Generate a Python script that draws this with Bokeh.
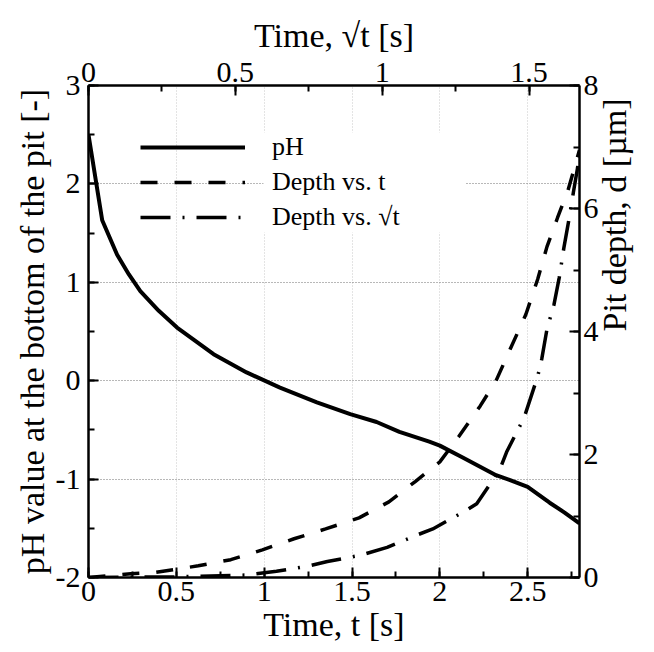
import numpy as np
from bokeh.plotting import figure
from bokeh.models import (LinearAxis, Range1d, SingleIntervalTicker,
                          NumeralTickFormatter, Legend, LegendItem, BoxAnnotation)
from bokeh.embed import file_html
from bokeh.resources import INLINE

FONT = "Liberation Serif"

# pH at the bottom of the pit vs time t [s]
t_ph = [0.0, 0.078, 0.163, 0.23, 0.295, 0.40, 0.504, 0.712, 0.90, 1.09, 1.30,
        1.49, 1.64, 1.77, 1.94, 2.0, 2.13, 2.32, 2.40, 2.50, 2.625, 2.71, 2.795]
ph = [2.5, 1.63, 1.28, 1.08, 0.91, 0.71, 0.54, 0.27, 0.084, -0.07, -0.22,
      -0.34, -0.42, -0.52, -0.62, -0.66, -0.78, -0.96, -1.01, -1.08, -1.24, -1.34, -1.45]

# Pit depth [um] vs t
t_dt = [0.0, 0.24, 0.375, 0.625, 0.81, 0.99, 1.17, 1.35, 1.54, 1.71, 1.86, 2.0,
        2.11, 2.23, 2.32, 2.40, 2.49, 2.557, 2.61, 2.67, 2.73, 2.78, 2.795]
depth_t = [0.0, 0.06, 0.08, 0.19, 0.29, 0.45, 0.63, 0.79, 0.97, 1.23, 1.56, 1.88,
           2.30, 2.79, 3.2, 3.71, 4.28, 4.85, 5.38, 5.85, 6.3, 6.8, 6.95]

# Pit depth [um] vs sqrt(t)
t_ds = [0.0, 0.5, 0.9, 1.07, 1.24, 1.36, 1.545, 1.70, 1.86, 1.96, 2.15, 2.21,
        2.32, 2.35, 2.38, 2.48, 2.557, 2.58, 2.61, 2.65, 2.68, 2.706, 2.733,
        2.76, 2.784, 2.795]
depth_s = [0.0, 0.01, 0.04, 0.1, 0.18, 0.26, 0.36, 0.49, 0.68, 0.79, 1.09, 1.2,
           1.66, 1.82, 2.04, 2.6, 3.27, 3.55, 4.04, 4.44, 4.88, 5.36, 5.79,
           6.26, 6.66, 6.95]

T_MAX = 2.795
PH_RANGE = (-2, 3)
DEPTH_RANGE = (0, 8)

p = figure(width=654, height=652, output_backend="svg", toolbar_location=None,
           x_range=Range1d(0, T_MAX), y_range=Range1d(*PH_RANGE),
           min_border_left=88, min_border_right=74, min_border_top=85,
           min_border_bottom=75,
           x_axis_label="Time, t [s]",
           y_axis_label="pH value at the bottom of the pit [-]")
p.outline_line_color = None
p.background_fill_color = "white"
p.extra_y_ranges = {"depth": Range1d(*DEPTH_RANGE)}
p.extra_x_ranges = {"sqrt": Range1d(0, float(np.sqrt(T_MAX)))}

bottom = p.below[0]
left = p.left[0]
right = LinearAxis(y_range_name="depth", axis_label="Pit depth, d [µm]")
top = LinearAxis(x_range_name="sqrt", axis_label="Time, √t [s]")
p.add_layout(right, "right")
p.add_layout(top, "above")

bottom.ticker = SingleIntervalTicker(interval=0.5, num_minor_ticks=2)
left.ticker = SingleIntervalTicker(interval=1, num_minor_ticks=2)
right.ticker = SingleIntervalTicker(interval=2, num_minor_ticks=2)
top.ticker = SingleIntervalTicker(interval=0.5, num_minor_ticks=2)

for ax in [bottom, left, right, top]:
    ax.formatter = NumeralTickFormatter(format="0.[0]")
    ax.axis_line_width = 2.5
    ax.axis_line_color = "black"
    ax.major_tick_in = 10
    ax.major_tick_out = 0
    ax.minor_tick_in = 6
    ax.minor_tick_out = 0
    ax.major_tick_line_width = 2
    ax.minor_tick_line_width = 2
    ax.major_tick_line_color = "black"
    ax.minor_tick_line_color = "black"
    ax.major_label_text_font = FONT
    ax.major_label_text_font_size = "30px"
    ax.major_label_text_color = "black"
    ax.axis_label_text_font = FONT
    ax.axis_label_text_font_size = "34px"
    ax.axis_label_text_font_style = "normal"
    ax.axis_label_text_color = "black"
    ax.major_label_standoff = 4
    ax.axis_label_standoff = 2
left.major_label_standoff = 8
right.major_label_standoff = 4
top.axis_label_standoff = 6
# right-hand title reads bottom-to-top, as on the left
right.axis_label_orientation = float(np.pi / 2)
right.axis_label_standoff = 13

p.xgrid.ticker = bottom.ticker
p.ygrid.ticker = left.ticker
p.xgrid.grid_line_color = "#c8c8c8"
p.xgrid.grid_line_dash = "1 2"
p.xgrid.grid_line_width = 1
p.ygrid.grid_line_color = "#707070"
p.ygrid.grid_line_dash = "1 2"
p.ygrid.grid_line_width = 1

r_ph = p.line(t_ph, ph, line_color="black", line_width=4)
r_dt = p.line(t_dt, depth_t, y_range_name="depth", line_color="black",
              line_width=3.5, line_dash="17 17")
r_ds = p.line(t_ds, depth_s, y_range_name="depth", line_color="black",
              line_width=3.5, line_dash="30 12 2 12")

# white patch behind the legend texts (hides the grid there)
p.add_layout(BoxAnnotation(left=175, right=377, bottom=345, top=445,
                           left_units="screen", right_units="screen",
                           bottom_units="screen", top_units="screen",
                           fill_color="white", fill_alpha=1, line_alpha=0))

legend = Legend(items=[LegendItem(label="pH", renderers=[r_ph]),
                       LegendItem(label="Depth vs. t", renderers=[r_dt]),
                       LegendItem(label="Depth vs. √t", renderers=[r_ds])],
                location=(52, 345), padding=0, margin=0, spacing=5,
                glyph_width=105, glyph_height=30, label_height=30,
                label_standoff=27, border_line_alpha=0,
                background_fill_alpha=0,
                label_text_font=FONT, label_text_font_size="26px",
                label_text_color="black")
p.add_layout(legend, "center")

open("out.html", "w").write(file_html(p, INLINE))
